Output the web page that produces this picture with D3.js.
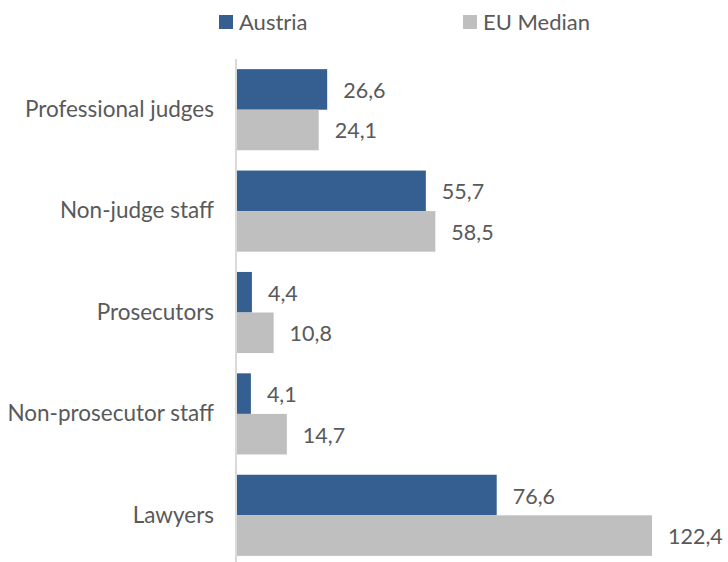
<!DOCTYPE html>
<html>
<head>
<meta charset="utf-8">
<script src="https://cdn.jsdelivr.net/npm/d3@7"></script>
<style>
  body { margin: 0; background: #fff; }
  svg text { font-family: Lato, "Open Sans", sans-serif; fill: #595959; }
</style>
</head>
<body>
<div id="chart"></div>
<script>
const categories = ['Professional judges', 'Non-judge staff', 'Prosecutors', 'Non-prosecutor staff', 'Lawyers'];
const austria = [26.6, 55.7, 4.4, 4.1, 76.6];
const euMedian = [24.1, 58.5, 10.8, 14.7, 122.4];
const seriesNames = ['Austria', 'EU Median'];
const colors = ['#355F91', '#BFBFBF'];

const width = 728, height = 562;

const svg = d3.select('#chart')
    .append('svg')
    .attr('width', width)
    .attr('height', height);

const x = d3.scaleLinear()
    .domain([0, 122.4])
    .range([237, 652]);

const y = d3.scaleBand()
    .domain(categories)
    .range([59, 566])
    .paddingInner(0.2)
    .paddingOuter(0.1);

const sub = d3.scaleBand()
    .domain(seriesNames)
    .range([0, y.bandwidth()]);

const rows = categories.map((c, i) => ({ cat: c, vals: [austria[i], euMedian[i]] }));

const groups = svg.selectAll('g.grp')
    .data(rows)
    .enter()
    .append('g')
    .attr('class', 'grp')
    .attr('transform', d => `translate(0,${y(d.cat)})`);

groups.selectAll('rect')
    .data(d => d.vals.map((v, j) => ({ v, s: seriesNames[j], j })))
    .enter()
    .append('rect')
    .attr('x', x(0))
    .attr('y', d => sub(d.s))
    .attr('width', d => x(d.v) - x(0))
    .attr('height', sub.bandwidth())
    .attr('fill', d => colors[d.j]);

groups.selectAll('text.val')
    .data(d => d.vals.map((v, j) => ({ v, s: seriesNames[j] })))
    .enter()
    .append('text')
    .attr('class', 'val')
    .attr('x', d => x(d.v) + 16)
    .attr('y', d => sub(d.s) + sub.bandwidth() / 2 + 1)
    .attr('dy', '0.35em')
    .attr('font-size', 21.5)
    .text(d => d3.format('.1f')(d.v).replace('.', ','));

// category axis
const axis = svg.append('g')
    .attr('transform', `translate(${x(0) - 1},0)`)
    .call(d3.axisLeft(y).tickSize(0).tickPadding(22));
axis.select('.domain')
    .attr('stroke', '#D9D9D9')
    .attr('stroke-width', 2)
    .attr('d', `M0,59V${height}`);
axis.selectAll('text')
    .attr('font-size', 22.5)
    .attr('fill', '#595959')
    .style('font-family', 'Lato, "Open Sans", sans-serif');

// legend
const legend = svg.append('g');
const legendX = [219, 463];
seriesNames.forEach((name, i) => {
    legend.append('rect')
        .attr('x', legendX[i])
        .attr('y', 15)
        .attr('width', 14)
        .attr('height', 14)
        .attr('fill', colors[i]);
    legend.append('text')
        .attr('x', legendX[i] + 20)
        .attr('y', 22)
        .attr('dy', '0.35em')
        .attr('font-size', 22)
        .text(name);
});
</script>
</body>
</html>
